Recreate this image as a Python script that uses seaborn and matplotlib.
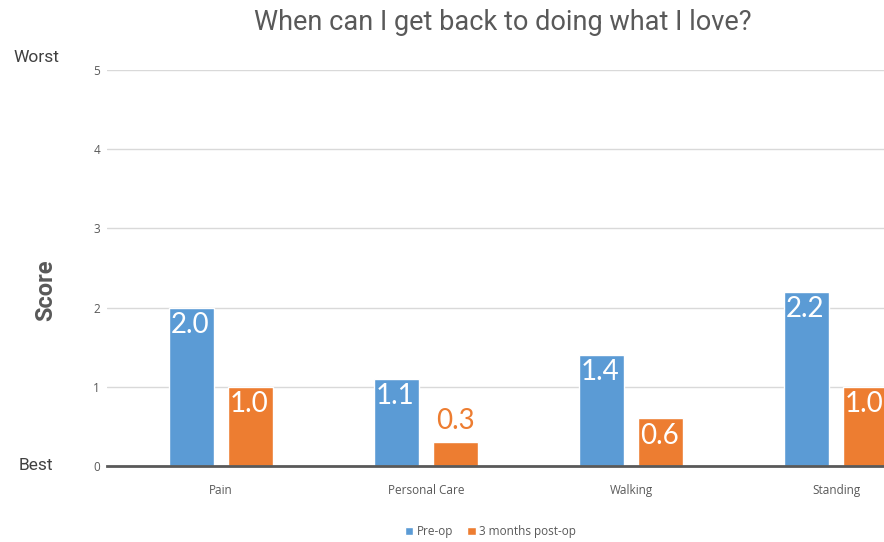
import pandas as pd
import seaborn as sns
import matplotlib.pyplot as plt

# data
categories = ["Pain", "Personal Care", "Walking", "Standing"]
pre_op = [2.0, 1.1, 1.4, 2.2]
post_op = [1.0, 0.3, 0.6, 1.0]
series = ["Pre-op", "3 months post-op"]
colors = ["#5B9BD5", "#ED7D31"]
yticks = [0, 1, 2, 3, 4, 5]

df = pd.DataFrame({
    "category": categories * 2,
    "score": pre_op + post_op,
    "series": [series[0]] * 4 + [series[1]] * 4,
})

sns.set_style("white")
plt.rcParams["font.family"] = ["Roboto", "DejaVu Sans"]

fig = plt.figure(figsize=(8.84, 5.42), dpi=100)
ax = fig.add_axes([107 / 884, 1 - 466 / 542, 1 - 107 / 884, (466 - 70) / 542])

sns.barplot(data=df, x="category", y="score", hue="series", palette=colors,
            width=0.576, gap=0.236, ax=ax, legend=True, saturation=1)

ax.set_xlim(-0.556, 3.234)
ax.set_ylim(0, 5)
ax.set_yticks(yticks)
ax.grid(axis="y", color="#D9D9D9", lw=1)
ax.set_axisbelow(True)
for s in ["top", "right", "left"]:
    ax.spines[s].set_visible(False)
ax.spines["bottom"].set_color("#595959")
ax.spines["bottom"].set_linewidth(2)
ax.tick_params(axis="both", length=0, colors="#595959", labelsize=8.5)
ax.tick_params(axis="y", pad=5)
ax.tick_params(axis="x", pad=13)
for lab in ax.get_xticklabels() + ax.get_yticklabels():
    lab.set_fontfamily(["Open Sans", "DejaVu Sans"])
ax.set_xlabel("")
ax.set_ylabel("")

# data labels
for cont, vals in zip(ax.containers, [pre_op, post_op]):
    for bar, v in zip(cont, vals):
        x = bar.get_x() + bar.get_width() / 2
        if v < 0.5:
            ax.annotate(f"{v:.1f}", (x, v), xytext=(0, 6), textcoords="offset points",
                        ha="center", va="bottom", color=colors[1], fontsize=20,
                        family=["Lato", "DejaVu Sans"])
        else:
            ax.annotate(f"{v:.1f}", (x, v), xytext=(-1, -3), textcoords="offset points",
                        ha="center", va="top", color="white", fontsize=20,
                        family=["Lato", "DejaVu Sans"])

# legend
h, l = ax.get_legend_handles_labels()
ax.get_legend().remove()
fig.legend(h, l, loc="lower center", bbox_to_anchor=(0.555, -0.012), ncol=2, frameon=False,
           handlelength=0.7, handleheight=0.7, handletextpad=0.3, columnspacing=1.2,
           prop={"family": ["Open Sans", "DejaVu Sans"], "size": 8.5}, labelcolor="#595959")

fig.text(0.569, 1 - 22 / 542, "When can I get back to doing what I love?", ha="center", va="center",
         fontsize=19.5, color="#595959")
fig.text(36 / 884, 1 - 58 / 542, "Worst", ha="center", va="center", fontsize=12.5, color="#404040")
fig.text(36 / 884, 1 - 466 / 542, "Best", ha="center", va="center", fontsize=12.5, color="#404040")
fig.text(46 / 884, 1 - 290 / 542, "Score", ha="center", va="center", rotation=90,
         fontsize=17, fontweight="bold", color="#595959")

fig.savefig("out.png", dpi=100)
